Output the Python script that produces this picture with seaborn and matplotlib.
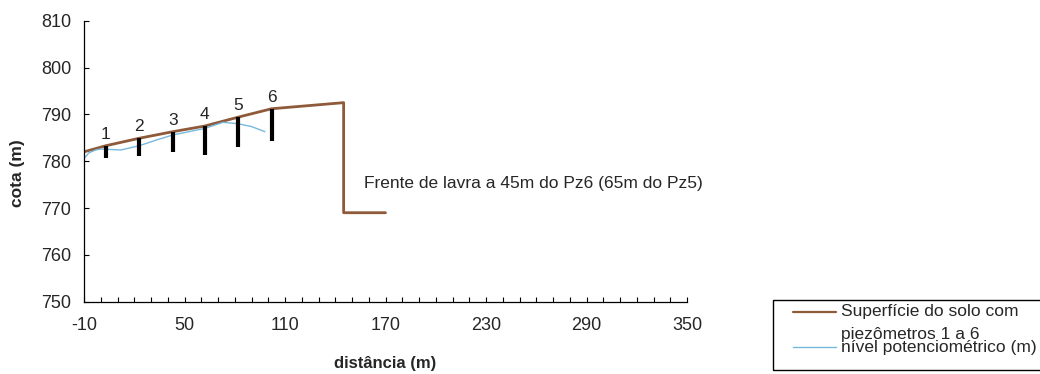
import matplotlib
matplotlib.use("Agg")
import matplotlib.pyplot as plt
from matplotlib.lines import Line2D
from matplotlib.patches import Rectangle
from matplotlib.ticker import MultipleLocator
import seaborn as sns

# Ground surface profile along the section (distance m, elevation m)
surface_x = [-10, 3, 23, 43, 62, 82, 102, 145, 145, 170]
surface_y = [782.0, 783.3, 784.9, 786.3, 787.5, 789.4, 791.2, 792.5, 769.0, 769.0]

# Potentiometric level
level_x = [-10, -7, -3, 0, 12, 23, 33, 43, 62, 73, 82, 90, 98]
level_y = [780.6, 781.8, 782.4, 782.6, 782.4, 783.3, 784.5, 785.6, 787.0, 788.3, 788.0, 787.4, 786.3]

# Piezometers
pz_labels = ["1", "2", "3", "4", "5", "6"]
pz_x = [3, 23, 43, 62, 82, 102]
pz_top = [783.3, 784.9, 786.3, 787.5, 789.4, 791.2]
pz_bottom = [780.6, 781.1, 782.0, 781.3, 783.1, 784.4]

x_ticks = [-10, 50, 110, 170, 230, 290, 350]
y_ticks = [750, 760, 770, 780, 790, 800, 810]

front_note = "Frente de lavra a 45m do Pz6 (65m do Pz5)"
legend_labels = ["Superfície do solo com\npiezômetros 1 a 6", "nível potenciométrico (m)"]

BROWN = "#8e5a3a"
BLUE = "#78b8dc"

sns.set_style("ticks")
plt.rcParams["font.family"] = ["Liberation Sans", "DejaVu Sans"]
plt.rcParams["axes.unicode_minus"] = False

W, H = 1040, 374
fig = plt.figure(figsize=(W / 100, H / 100), dpi=100)
ax = fig.add_axes([84 / W, 1 - 301.7 / H, (687 - 84) / W, (301.7 - 20.7) / H])

sns.lineplot(x=surface_x, y=surface_y, sort=False, estimator=None,
             color=BROWN, lw=2.0, ax=ax)
sns.lineplot(x=level_x, y=level_y, sort=False, estimator=None,
             color=BLUE, lw=1.0, ax=ax)

ax.vlines(pz_x, pz_bottom, pz_top, colors="black", lw=3.0, zorder=3)
for lbl, px, pt in zip(pz_labels, pz_x, pz_top):
    ax.annotate(lbl, (px, pt), xytext=(0, 3), textcoords="offset points",
                ha="center", va="bottom", fontsize=12.5)

ax.text(157, 775.3, front_note, ha="left", va="center", fontsize=12.5)

ax.set_xlim(-10, 350)
ax.set_ylim(750, 810)
ax.set_xticks(x_ticks)
ax.set_yticks(y_ticks)
ax.xaxis.set_minor_locator(MultipleLocator(10))
ax.tick_params(axis="both", which="both", direction="in", length=3.5,
               width=0.8, color="black", labelsize=13)
ax.tick_params(axis="x", which="major", pad=11)
ax.tick_params(axis="y", which="major", pad=9)
for s in ("top", "right"):
    ax.spines[s].set_visible(False)
for s in ("left", "bottom"):
    ax.spines[s].set_color("black")
    ax.spines[s].set_linewidth(0.9)

ax.set_xlabel("distância (m)", fontsize=12, fontweight="bold")
ax.set_ylabel("cota (m)", fontsize=12.5, fontweight="bold")
ax.xaxis.set_label_coords(0.5, -0.195)
ax.yaxis.set_label_coords(-0.098, 0.458)

# Legend box drawn in figure pixels
def fx(px):
    return px / W

def fy(py):
    return 1 - py / H

fig.add_artist(Rectangle((fx(773), fy(370)), fx(1050) - fx(773), fy(300) - fy(370),
                         transform=fig.transFigure, fill=False,
                         edgecolor="black", lw=1.0, clip_on=False))
fig.add_artist(Line2D([fx(793), fx(836)], [fy(311.7), fy(311.7)],
                      transform=fig.transFigure, color=BROWN, lw=1.6))
fig.add_artist(Line2D([fx(793), fx(836)], [fy(346.7), fy(346.7)],
                      transform=fig.transFigure, color=BLUE, lw=1.0))
first, second = legend_labels[0].split("\n")
fig.text(fx(840.7), fy(311.7), first, ha="left", va="center", fontsize=12.5)
fig.text(fx(840.7), fy(334.5), second, ha="left", va="center", fontsize=12.5)
fig.text(fx(840.7), fy(347.5), legend_labels[1], ha="left", va="center", fontsize=12.5)

fig.savefig("out.png", dpi=100)
